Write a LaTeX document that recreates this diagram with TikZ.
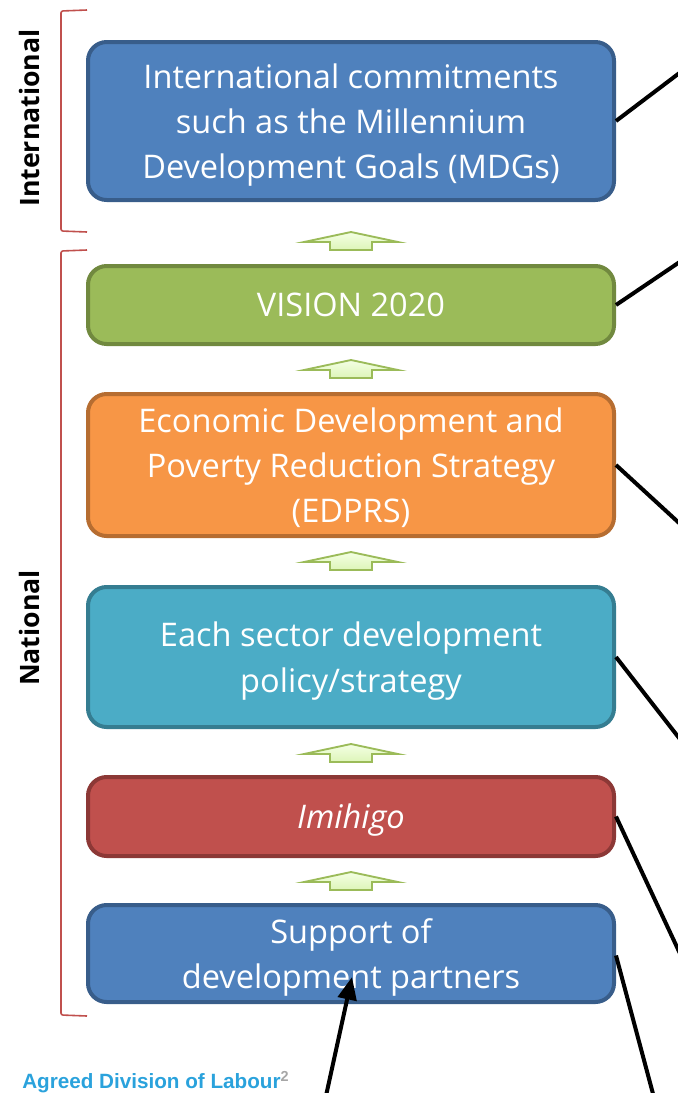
\documentclass[tikz,border=0pt]{standalone}
\usepackage{fontspec}
\setmainfont{Open Sans}
\newfontfamily\arialf{Liberation Sans}
\usetikzlibrary{arrows.meta,calc}
\definecolor{bluefill}{HTML}{4F81BD}
\definecolor{blueline}{HTML}{385D8A}
\definecolor{greenfill}{HTML}{9BBB59}
\definecolor{greenline}{HTML}{71893F}
\definecolor{orangefill}{HTML}{F79646}
\definecolor{orangeline}{HTML}{B66D31}
\definecolor{tealfill}{HTML}{4BACC6}
\definecolor{tealline}{HTML}{357D91}
\definecolor{redfill}{HTML}{C0504D}
\definecolor{redline}{HTML}{8C3836}
\definecolor{brk}{HTML}{C0504D}
\definecolor{arrtop}{HTML}{F4FFE4}
\definecolor{arrbot}{HTML}{DDF5B8}
\definecolor{arrline}{HTML}{9BBB59}
\definecolor{labblue}{HTML}{2AA2DC}
\begin{document}
\begin{tikzpicture}[x=0.75pt,y=-0.75pt,
  box/.style={rounded corners=14pt, line width=3pt, minimum width=526*0.75pt,
    text=white, align=center, inner sep=0pt, text depth=0pt,
    font=\fontsize{24.4}{34}\selectfont},
  conn/.style={line width=3pt, black},
  bracket/.style={line width=1.2pt, draw=brk, rounded corners=1.5pt},
  sidelabel/.style={rotate=90, font=\bfseries\fontsize{20}{24}\selectfont},
  uparr/.pic={\path[draw=arrline, line width=1.4pt, top color=arrtop, bottom color=arrbot]
     (0,0) -- (47,10) -- (21,10) -- (21,18) -- (-21,18) -- (-21,10) -- (-47,10) -- cycle;}
]
\useasboundingbox (0,0) rectangle (678,1093);

% boxes
\node[box, fill=bluefill, draw=blueline, minimum height=158*0.75pt] (s1) at (351,121)
  {International commitments\\such as the Millennium\\Development Goals (MDGs)};
\node[box, fill=greenfill, draw=greenline, minimum height=78*0.75pt] (s2) at (351,305)
  {VISION 2020};
\node[box, fill=orangefill, draw=orangeline, minimum height=142*0.75pt] (s3) at (351,465)
  {Economic Development and\\Poverty Reduction Strategy\\(EDPRS)};
\node[box, fill=tealfill, draw=tealline, minimum height=140*0.75pt] (s4) at (351,657)
  {Each sector development\\policy/strategy};
\node[box, fill=redfill, draw=redline, minimum height=79*0.75pt] (s5) at (351,816.5)
  {\itshape Imihigo};
\node[box, fill=bluefill, draw=blueline, minimum height=97*0.75pt] (s6) at (351,953.5)
  {Support of\\development partners};

% block arrows
\pic at (351,232) {uparr};
\pic at (351,360) {uparr};
\pic at (351,552) {uparr};
\pic at (351,744) {uparr};
\pic at (351,872) {uparr};

% brackets
\draw[bracket] (87,10) -- (61,11) -- (61,231) -- (87,232);
\draw[bracket] (87,250) -- (61,251) -- (61,1015) -- (87,1016);
\node[sidelabel] (lint) at (30,118) {International};
\node[sidelabel] (lnat) at (30,628) {National};

% connectors to the right edge
\coordinate (e1) at (690,65);
\coordinate (e2) at (690,255);
\coordinate (e3) at (690,533);
\coordinate (e4) at (690,752);
\coordinate (e5) at (690,975);
\coordinate (e6) at (656,1105);
\draw[conn] (s1.east) -- (e1);
\draw[conn] (s2.east) -- (e2);
\draw[conn] (s3.east) -- (e3);
\draw[conn] (s4.east) -- (e4);
\draw[conn] (s5.east) -- (e5);
\draw[conn] ([yshift=-1.5pt]s6.east) -- (e6);

% arrow into the support box
\coordinate (b0) at (324,1105);
\coordinate (btip) at (352,977);
\draw[conn, -{Triangle[length=17pt, width=14pt]}] (b0) -- (btip);

% caption
\node[anchor=west, inner sep=0pt, text=labblue, font=\arialf\bfseries\fontsize{15.5}{18}\selectfont] (cap) at (22,1082)
  {Agreed Division of Labour\textsuperscript{\color{gray!70}2}};
\end{tikzpicture}
\end{document}
